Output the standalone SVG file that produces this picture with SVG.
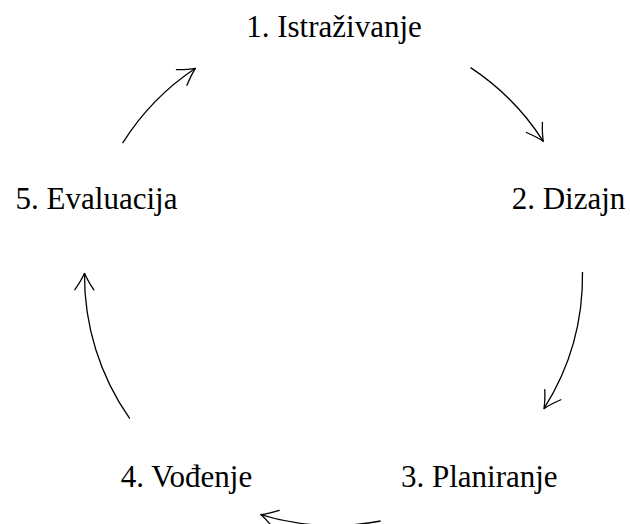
<svg xmlns="http://www.w3.org/2000/svg" width="630" height="524" viewBox="0 0 630 524">
<style>
.lbl{font-family:"Liberation Serif","Times New Roman",serif;font-size:31px;fill:#000;text-anchor:middle}
.arc{fill:none;stroke:#000;stroke-width:1.3;marker-end:url(#ah)}
</style>
<defs>
<marker id="ah" markerUnits="userSpaceOnUse" orient="auto" refX="0" refY="0" markerWidth="40" markerHeight="40" viewBox="-20 -20 40 40" overflow="visible">
<path d="M-16.5,-9.5 Q-7,-3 0,0 Q-7,3 -16.5,9.5" fill="none" stroke="#000" stroke-width="1.3" stroke-linecap="round" stroke-linejoin="round"/>
</marker>
</defs>
<rect width="630" height="524" fill="#fff"/>
<g id="connectors">
<path class="arc" d="M470.6,67.6 A249,249 0 0 1 543.3,141.3"/>
<path class="arc" d="M582.5,272.0 A249,249 0 0 1 544.0,408.6"/>
<path class="arc" d="M380.6,521.0 A249,249 0 0 1 260.7,514.6"/>
<path class="arc" d="M129.8,418.7 A249,249 0 0 1 84.5,273.3"/>
<path class="arc" d="M122.6,143.2 A249,249 0 0 1 195.4,68.3"/>
</g>
<g id="node1"><text class="lbl" x="334" y="37.3">1. Istraživanje</text></g>
<g id="node2"><text class="lbl" x="568.5" y="209.3">2. Dizajn</text></g>
<g id="node3"><text class="lbl" x="479.3" y="486.8">3. Planiranje</text></g>
<g id="node4"><text class="lbl" x="186.5" y="486.8">4. Vođenje</text></g>
<g id="node5"><text class="lbl" x="96.5" y="209.3">5. Evaluacija</text></g>
</svg>
